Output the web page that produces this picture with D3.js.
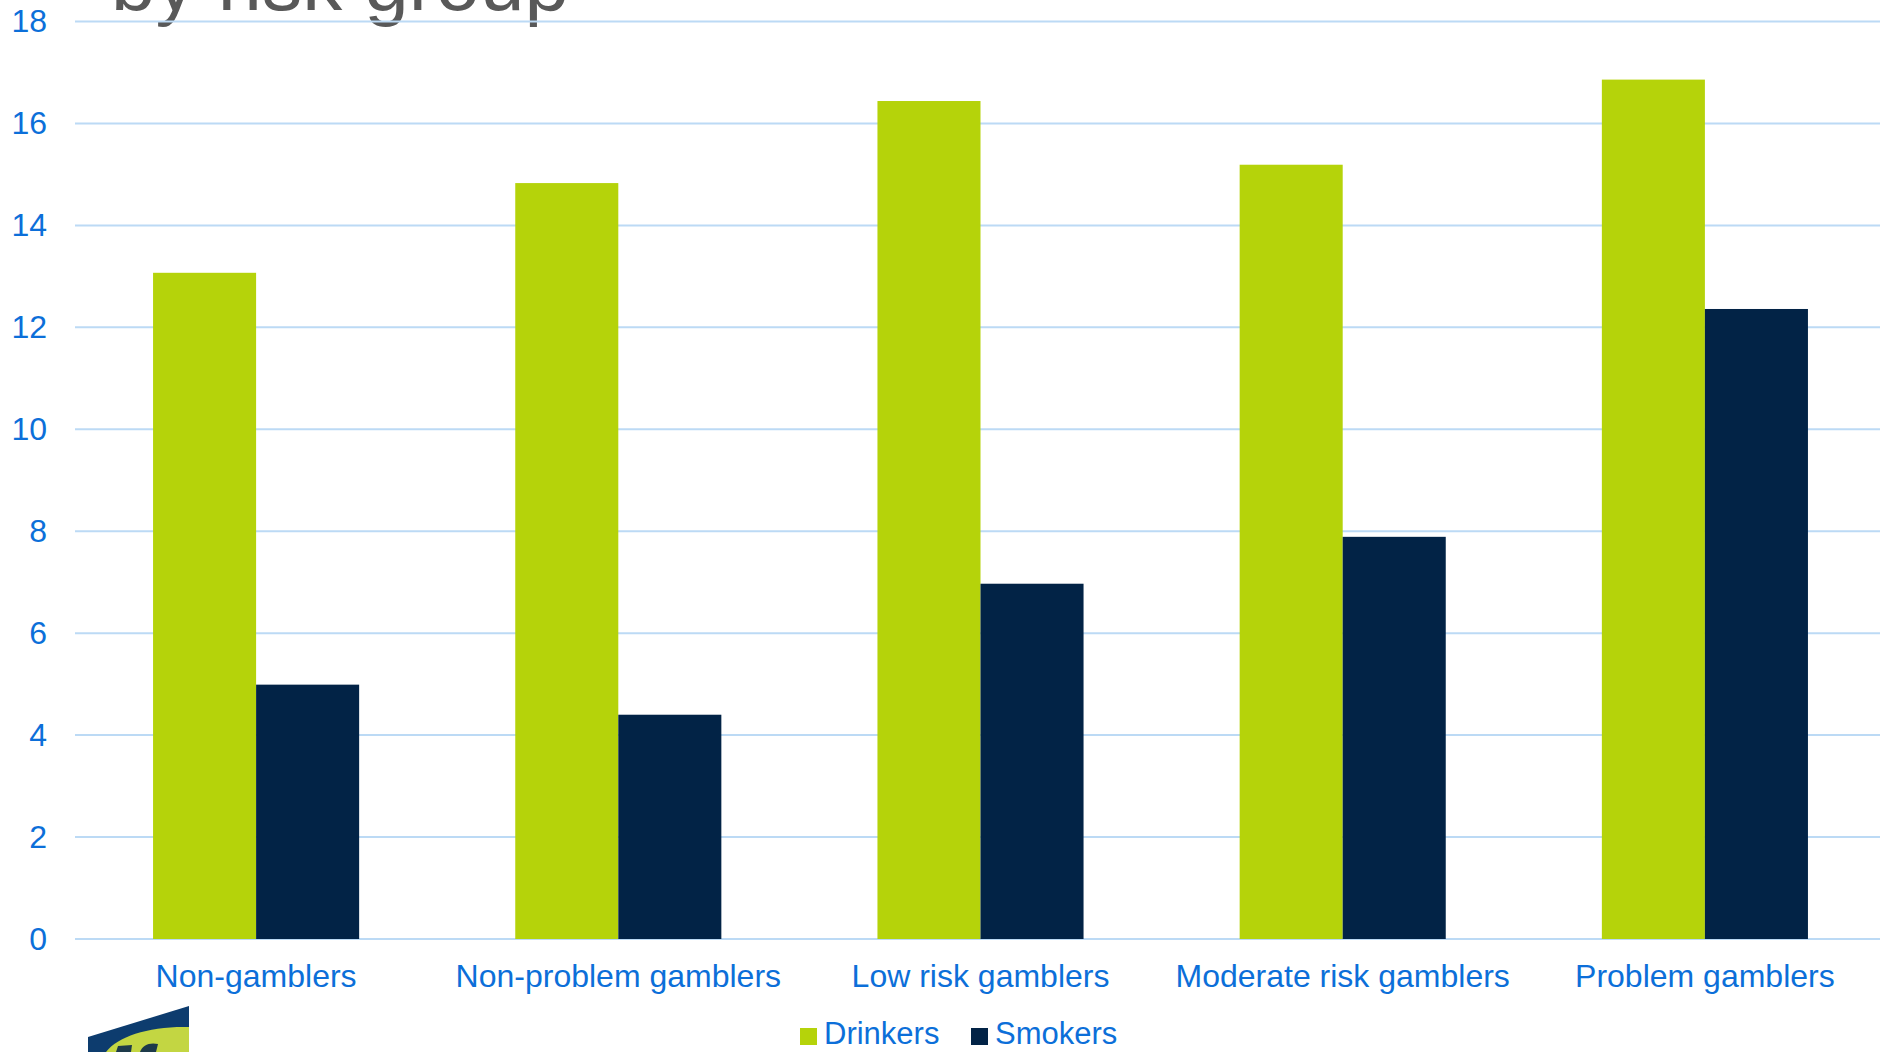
<!DOCTYPE html>
<html>
<head>
<meta charset="utf-8">
<script src="https://cdn.jsdelivr.net/npm/d3@7"></script>
<style>
  html, body { margin: 0; padding: 0; background: #ffffff; }
  svg { display: block; font-family: "Liberation Sans", Arial, sans-serif; }
</style>
</head>
<body>
<svg id="chart" width="1880" height="1052"></svg>
<script>
// Risk groups along the x axis
const categories = ["Non-gamblers", "Non-problem gamblers", "Low risk gamblers", "Moderate risk gamblers", "Problem gamblers"];
// Series names (legend order)
const seriesNames = ["Drinkers", "Smokers"];
// Percentage values per risk group
const drinkers = [13.07, 14.83, 16.44, 15.19, 16.86];
const smokers  = [4.99, 4.40, 6.97, 7.89, 12.36];
// Y axis ticks
const yTicks = [0, 2, 4, 6, 8, 10, 12, 14, 16, 18];
const titleText = "by risk group";

const colors = { Drinkers: "#b5d30a", Smokers: "#022346" };
const blue = "#0c6fd9";

const svg = d3.select("#chart");
const W = 1880;
const plotLeft = 75, plotRight = 1886;
const y0 = 939, yTop = 21.5;

const rows = categories.map((c, i) => ({ cat: c, Drinkers: drinkers[i], Smokers: smokers[i] }));

const y = d3.scaleLinear().domain([0, 18]).range([y0, yTop]);
const x0 = d3.scaleBand().domain(categories).range([plotLeft, plotRight])
  .paddingInner(0.431).paddingOuter(0.2155);
const x1 = d3.scaleBand().domain(seriesNames).range([0, x0.bandwidth()]);

// Title (runs off the top edge of the page)
svg.append("text")
  .attr("x", 111).attr("y", 10)
  .attr("font-size", 80)
  .attr("fill", "#595959")
  .text(titleText);

// Horizontal gridlines
svg.append("g").selectAll("line")
  .data(yTicks)
  .join("line")
  .attr("x1", plotLeft).attr("x2", W)
  .attr("y1", d => y(d)).attr("y2", d => y(d))
  .attr("stroke", "#bcdaf5").attr("stroke-width", 2);

// Bars
const groups = svg.append("g").selectAll("g")
  .data(rows)
  .join("g")
  .attr("transform", d => `translate(${x0(d.cat)},0)`);

groups.selectAll("rect")
  .data(d => seriesNames.map(k => ({ key: k, value: d[k] })))
  .join("rect")
  .attr("x", d => x1(d.key))
  .attr("width", x1.bandwidth())
  .attr("y", d => y(d.value))
  .attr("height", d => y0 - y(d.value))
  .attr("fill", d => colors[d.key]);

// Y axis labels
const yAxis = svg.append("g")
  .attr("transform", `translate(${plotLeft},0)`)
  .call(d3.axisLeft(y).tickValues(yTicks).tickSize(0).tickPadding(28).tickFormat(d3.format("d")));
yAxis.select(".domain").remove();
yAxis.selectAll("text").attr("font-size", 32).attr("fill", blue)
  .attr("font-family", "Liberation Sans, Arial, sans-serif");

// X axis labels
const xAxis = svg.append("g")
  .attr("transform", `translate(0,${y0})`)
  .call(d3.axisBottom(x0).tickSize(0).tickPadding(25));
xAxis.select(".domain").remove();
xAxis.selectAll("text").attr("font-size", 32).attr("fill", blue)
  .attr("font-family", "Liberation Sans, Arial, sans-serif");

// Legend
const legendPos = [{ x: 800 }, { x: 971 }];
const legend = svg.append("g").selectAll("g")
  .data(seriesNames)
  .join("g")
  .attr("transform", (d, i) => `translate(${legendPos[i].x},1028)`);
legend.append("rect").attr("width", 17).attr("height", 17).attr("fill", d => colors[d]);
legend.append("text").attr("x", 24).attr("y", 16)
  .attr("font-size", 31).attr("fill", blue).text(d => d);

// Emblem in the lower-left corner
const logo = svg.append("g");
logo.append("path")
  .attr("d", "M88,1037 L189,1006 L189,1052 L88,1052 Z")
  .attr("fill", "#0d3c6e");
logo.append("path")
  .attr("d", "M106,1052 C118,1036 150,1026 189,1027 L189,1052 Z")
  .attr("fill", "#c3d642");
logo.append("path")
  .attr("d", "M116,1052 L118,1046 L132,1045 L131,1052 Z")
  .attr("fill", "#1d3a4a");
logo.append("path")
  .attr("d", "M140,1052 C142,1045 150,1042 158,1044 L156,1052 Z")
  .attr("fill", "#1d3a4a");
</script>
</body>
</html>
